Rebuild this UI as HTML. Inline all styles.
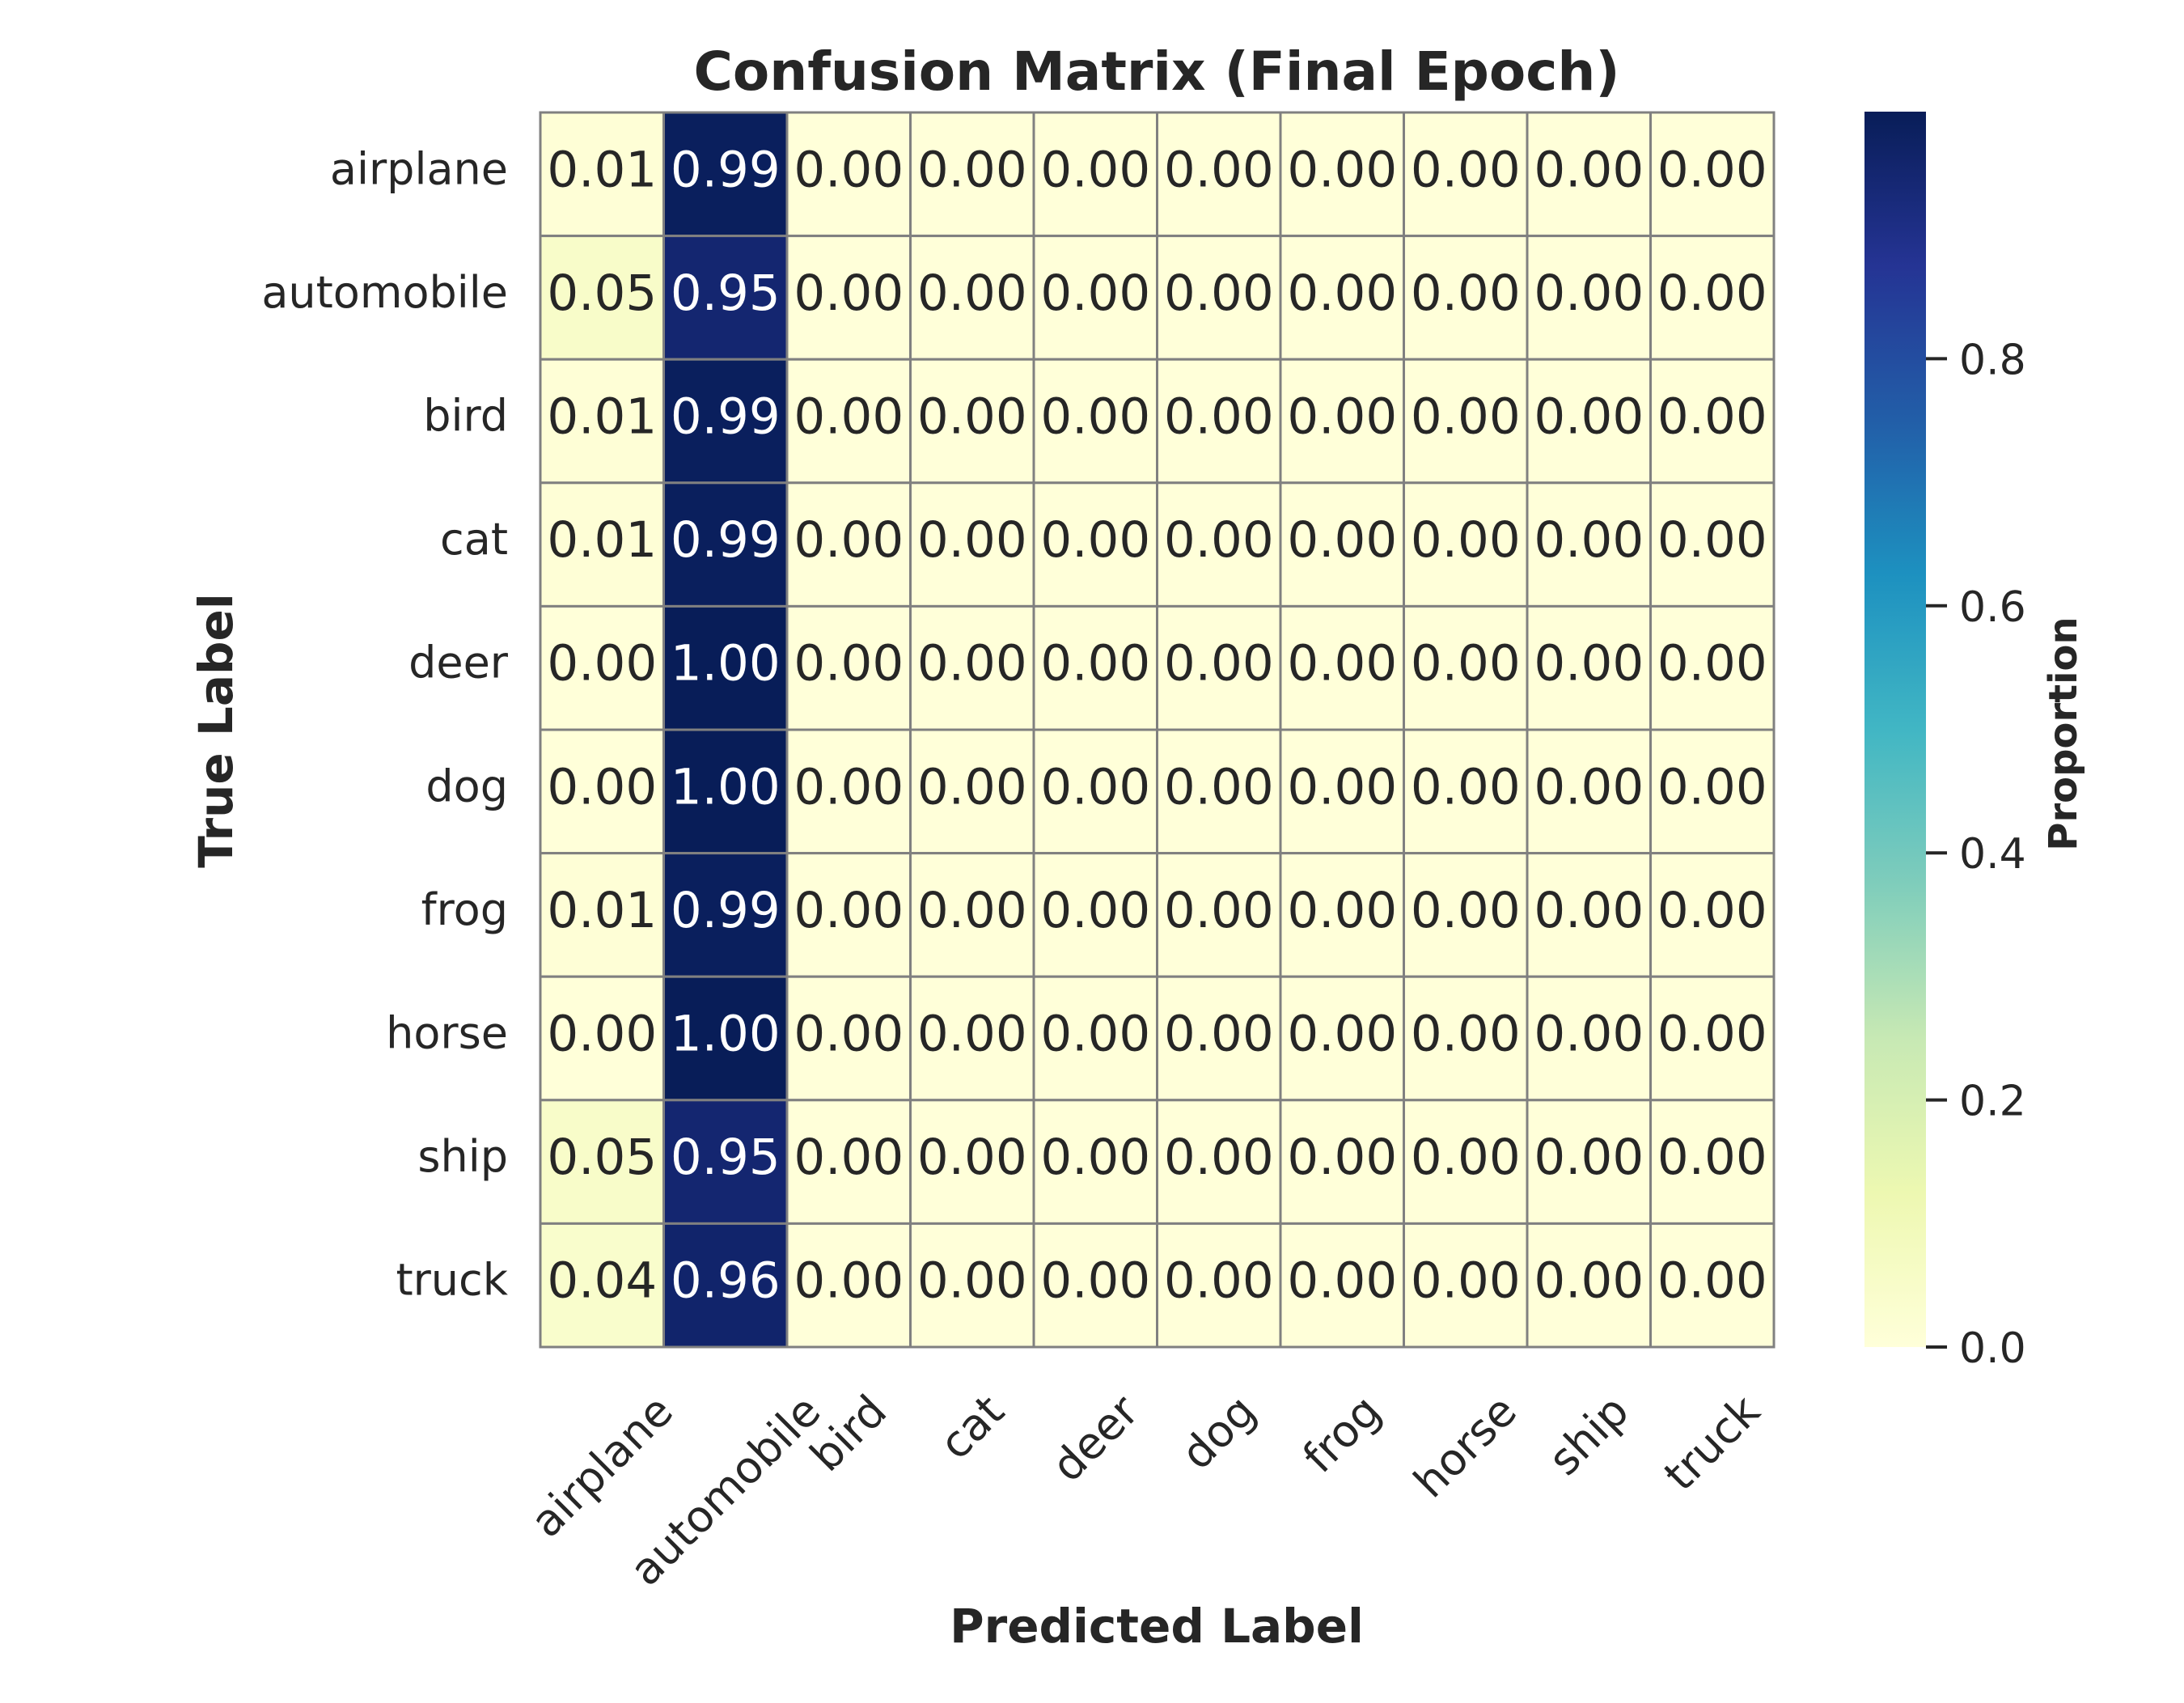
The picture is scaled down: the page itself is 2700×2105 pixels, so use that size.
<!DOCTYPE html>
<html><head><meta charset="utf-8"><style>
html,body{margin:0;padding:0;background:#fff}
svg text{font-family:"DejaVu Sans","Liberation Sans",sans-serif;fill:#262626}
</style></head><body>
<svg id="chart" width="2700" height="2100" xmlns="http://www.w3.org/2000/svg">
<defs><linearGradient id="cbgrad" x1="0" y1="1" x2="0" y2="0"></linearGradient></defs>
<text x="1430" y="111" text-anchor="middle" font-size="66" font-weight="bold">Confusion Matrix (Final Epoch)</text>
<text x="1430" y="2030" text-anchor="middle" font-size="58" font-weight="bold">Predicted Label</text>
<text x="0" y="0" transform="translate(287,903) rotate(-90)" text-anchor="middle" font-size="58" font-weight="bold">True Label</text>
<text x="0" y="0" transform="translate(2567,907) rotate(-90)" text-anchor="middle" font-size="48" font-weight="bold">Proportion</text>
<g id="cells"></g>
<g id="labels"></g>
<g id="cbar"></g>
</svg>
<script>
const categories = ["airplane","automobile","bird","cat","deer","dog","frog","horse","ship","truck"];
const colAirplane = [0.01,0.05,0.01,0.01,0.00,0.00,0.01,0.00,0.05,0.04];
const colAutomobile = [0.99,0.95,0.99,0.99,1.00,1.00,0.99,1.00,0.95,0.96];
const colOthers = [0,0,0,0,0,0,0,0,0,0];
const cbTicks = [0.0,0.2,0.4,0.6,0.8];
const cbTickLabels = ["0.0","0.2","0.4","0.6","0.8"];

const NS="http://www.w3.org/2000/svg";
const X0=668, Y0=139, CW=152.5, CH=152.6, N=10;
const VMIN=0, VMAX=1.0;
const CBX=2305, CBW=76, CBTOP=138, CBBOT=1665;
const stops=["#ffffd9","#edf8b1","#c7e9b4","#7fcdbb","#41b6c4","#1d91c0","#225ea8","#253494","#081d58"];
function hex(h){return [1,3,5].map(i=>parseInt(h.substr(i,2),16));}
function cmap(v){
  let t=Math.max(0,Math.min(1,(v-VMIN)/(VMAX-VMIN)))*(stops.length-1);
  let i=Math.min(Math.floor(t),stops.length-2), f=t-i;
  const a=hex(stops[i]), b=hex(stops[i+1]);
  return "rgb("+a.map((c,k)=>Math.round(c+(b[k]-c)*f)).join(",")+")";
}
function xPos(c){return X0+c*CW;}
function yPos(r){return Y0+r*CH;}
function cbY(v){return CBBOT-(v-VMIN)/(VMAX-VMIN)*(CBBOT-CBTOP);}
function val(r,c){return c===0?colAirplane[r]:c===1?colAutomobile[r]:colOthers[r];}

const cells=document.getElementById("cells");
for(let r=0;r<N;r++){for(let c=0;c<N;c++){
  const v=val(r,c);
  const rect=document.createElementNS(NS,"rect");
  rect.setAttribute("x",xPos(c));rect.setAttribute("y",yPos(r));
  rect.setAttribute("width",CW);rect.setAttribute("height",CH);
  rect.setAttribute("fill",cmap(v));rect.setAttribute("stroke","#808080");rect.setAttribute("stroke-width","3");
  
  
  cells.appendChild(rect);
  const t=document.createElementNS(NS,"text");
  t.setAttribute("x",xPos(c)+CW/2);t.setAttribute("y",yPos(r)+CH/2+15);
  t.setAttribute("text-anchor","middle");t.setAttribute("font-size","61");
  t.style.fill = v>0.5 ? "#ffffff" : "#262626";
  t.textContent=v.toFixed(2);
  
  
  cells.appendChild(t);
}}
const labels=document.getElementById("labels");
categories.forEach((name,i)=>{
  const y=document.createElementNS(NS,"text");
  y.setAttribute("x",628);y.setAttribute("y",yPos(i)+CH/2+12);
  y.setAttribute("text-anchor","end");y.setAttribute("font-size","54");
  y.textContent=name;
  
  
  labels.appendChild(y);
  const x=document.createElementNS(NS,"text");
  x.setAttribute("text-anchor","middle");x.setAttribute("font-size","54");
  x.textContent=name;
  
  
  labels.appendChild(x);
  const len=x.getComputedTextLength();
  const ext=(len+42)*0.7071;
  const cx=xPos(i)+CW/2, cy=1720+ext/2;
  x.setAttribute("x",0);x.setAttribute("y",18);
  x.setAttribute("transform","translate("+cx+","+cy+") rotate(-45)");
});
const grad=document.getElementById("cbgrad");
for(let k=0;k<=40;k++){
  const s=document.createElementNS(NS,"stop");
  s.setAttribute("offset",(k/40));s.setAttribute("stop-color",cmap(VMIN+(VMAX-VMIN)*k/40));
  grad.appendChild(s);
}
const cb=document.getElementById("cbar");
const bar=document.createElementNS(NS,"rect");
bar.setAttribute("x",CBX);bar.setAttribute("y",CBTOP);bar.setAttribute("width",CBW);bar.setAttribute("height",CBBOT-CBTOP);
bar.setAttribute("fill","url(#cbgrad)");


cb.appendChild(bar);
cbTicks.forEach((v,i)=>{
  const ln=document.createElementNS(NS,"line");
  ln.setAttribute("x1",CBX+CBW);ln.setAttribute("x2",CBX+CBW+26);
  ln.setAttribute("y1",cbY(v));ln.setAttribute("y2",cbY(v));
  ln.setAttribute("stroke","#262626");ln.setAttribute("stroke-width","4");
  
  
  cb.appendChild(ln);
  const t=document.createElementNS(NS,"text");
  t.setAttribute("x",2422);t.setAttribute("y",cbY(v)+19);t.setAttribute("font-size","52");
  t.textContent=cbTickLabels[i];
  
  
  cb.appendChild(t);
});
</script>
</body></html>
